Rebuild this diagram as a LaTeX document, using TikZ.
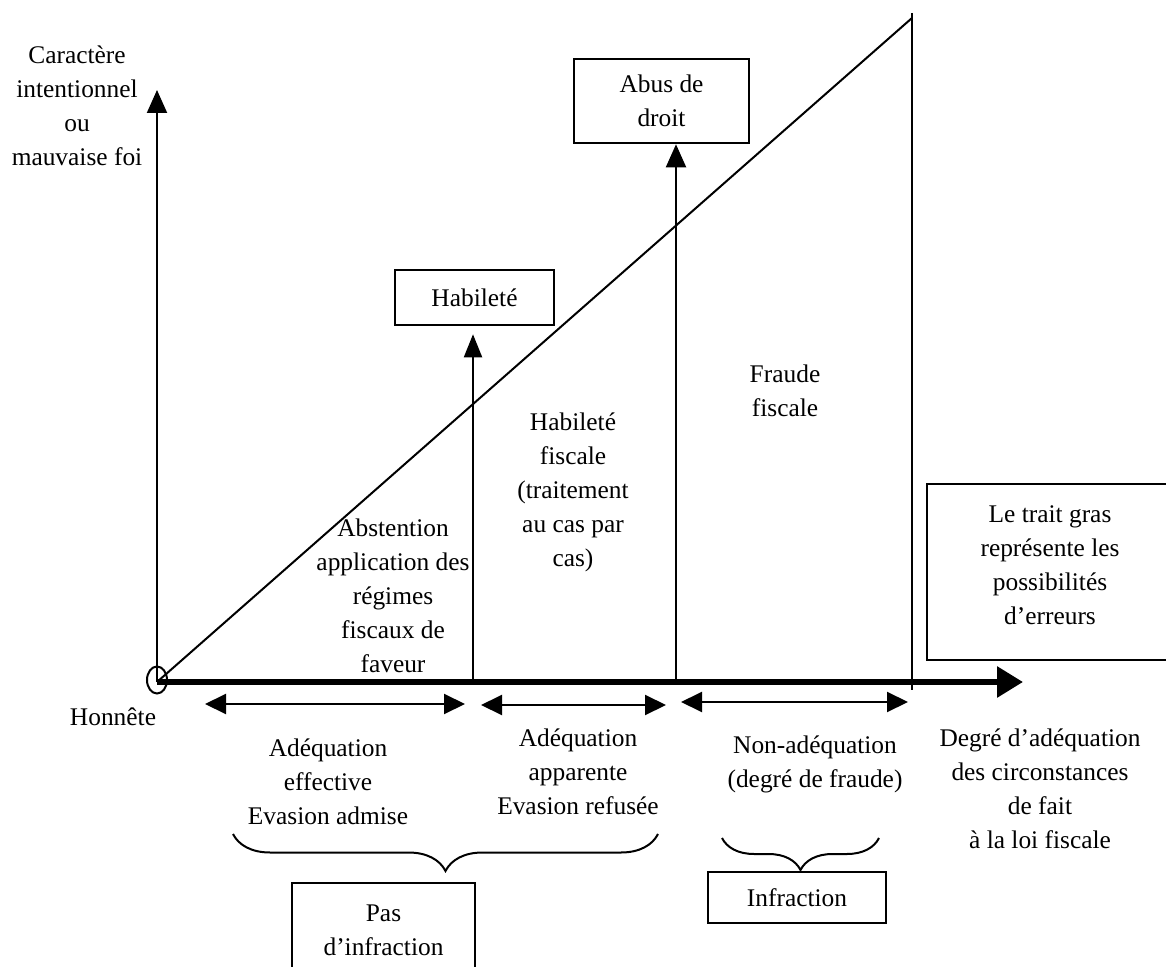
\documentclass[tikz,border=0pt]{standalone}
\usepackage{fontspec}
\setmainfont{Liberation Serif}
\usetikzlibrary{arrows.meta,decorations.pathreplacing}
\begin{document}
\begin{tikzpicture}[x=0.5pt,y=-0.5pt,
  txt/.style={align=center,font=\fontsize{12.7}{17}\selectfont,inner sep=0pt},
  box/.style={draw,line width=1.3pt,txt},
  thinline/.style={line width=1pt},
  vtip/.style={-{Triangle[length=11.5pt,width=10pt]}},
  dtip/.style={{Triangle[length=10.5pt,width=10pt]}-{Triangle[length=10.5pt,width=10pt]}},
  bracestyle/.style={line width=1pt,decorate,decoration={brace,mirror,amplitude=18.5pt}}]
\useasboundingbox (0,0) rectangle (1166,967);

% coordinates
\coordinate (O) at (157,682);
\coordinate (ytop) at (157,90);
\coordinate (xend) at (1023,682);
\coordinate (diagend) at (912,18);
\coordinate (vtop) at (912,13);
\coordinate (vbot) at (912,690);
\coordinate (hb) at (473,682);
\coordinate (ab) at (676,682);

% boxes
\node[box,minimum width=79.5pt,minimum height=27.5pt] (hab) at (474.5,297.5) {Habileté};
\node[box,minimum width=87.5pt,minimum height=42pt] (abus) at (661.5,101) {Abus de\\droit};
\node[box,minimum width=89pt,minimum height=25.5pt] (infr) at (797,897.5) {Infraction};

% axes
\draw[thinline,vtip] (O) -- (ytop);
\draw[line width=3pt,-{Triangle[length=13pt,width=15pt]}] (O) -- (xend);
\draw[thinline] (157,680) ellipse (10 and 13.5);
\draw[thinline] (O) -- (diagend);
\draw[thinline] (vtop) -- (vbot);
\draw[thinline,-{Triangle[length=11.5pt,width=9pt]},shorten >=4pt] (hb) -- (hb |- hab.south);
\draw[thinline,vtip] (ab) -- (ab |- abus.south);

% double arrows
\coordinate (d1a) at (205,704);
\coordinate (d1b) at (465,704);
\coordinate (d2a) at (481,705);
\coordinate (d2b) at (666,705);
\coordinate (d3a) at (681,702);
\coordinate (d3b) at (908,702);
\draw[thinline,dtip] (d1a) -- (d1b);
\draw[thinline,dtip] (d2a) -- (d2b);
\draw[thinline,dtip] (d3a) -- (d3b);

% braces
\coordinate (b1a) at (233,834);
\coordinate (b1b) at (658,834);
\coordinate (b2a) at (722,838);
\coordinate (b2b) at (879,838);
\draw[bracestyle] (b1a) -- (b1b);
\draw[bracestyle,decoration={amplitude=16pt}] (b2a) -- (b2b);

% open boxes
\draw[line width=1.3pt] (292,975) -- (292,883) -- (475,883) -- (475,975);
\node[txt] (pas) at (383.5,930) {Pas\\d’infraction};
\draw[line width=1.3pt] (1175,484) -- (927,484) -- (927,660) -- (1175,660);
\node[txt] (trait) at (1050,565) {Le trait gras\\représente les\\possibilités\\d’erreurs};

% texts
\node[txt] (car) at (77,106) {Caractère\\intentionnel\\ou\\mauvaise foi};
\node[txt] (habf) at (573,492.5) {Habileté\\fiscale\\(traitement\\au cas par\\cas)};
\node[txt] (abst) at (393,596) {Abstention\\application des\\régimes\\fiscaux de\\faveur};
\node[txt] (fraude) at (785,391) {Fraude\\fiscale};
\node[txt] (adeq1) at (328,782) {Adéquation\\effective\\Evasion admise};
\node[txt] (adeq2) at (578,772) {Adéquation\\apparente\\Evasion refusée};
\node[txt] (nonad) at (815,764) {Non-adéquation\\(degré de fraude)};
\node[txt] (degre) at (1040,789) {Degré d’adéquation\\des circonstances\\de fait\\à la loi fiscale};
\node[txt] (hon) at (113,717) {Honnête};
\end{tikzpicture}
\end{document}
